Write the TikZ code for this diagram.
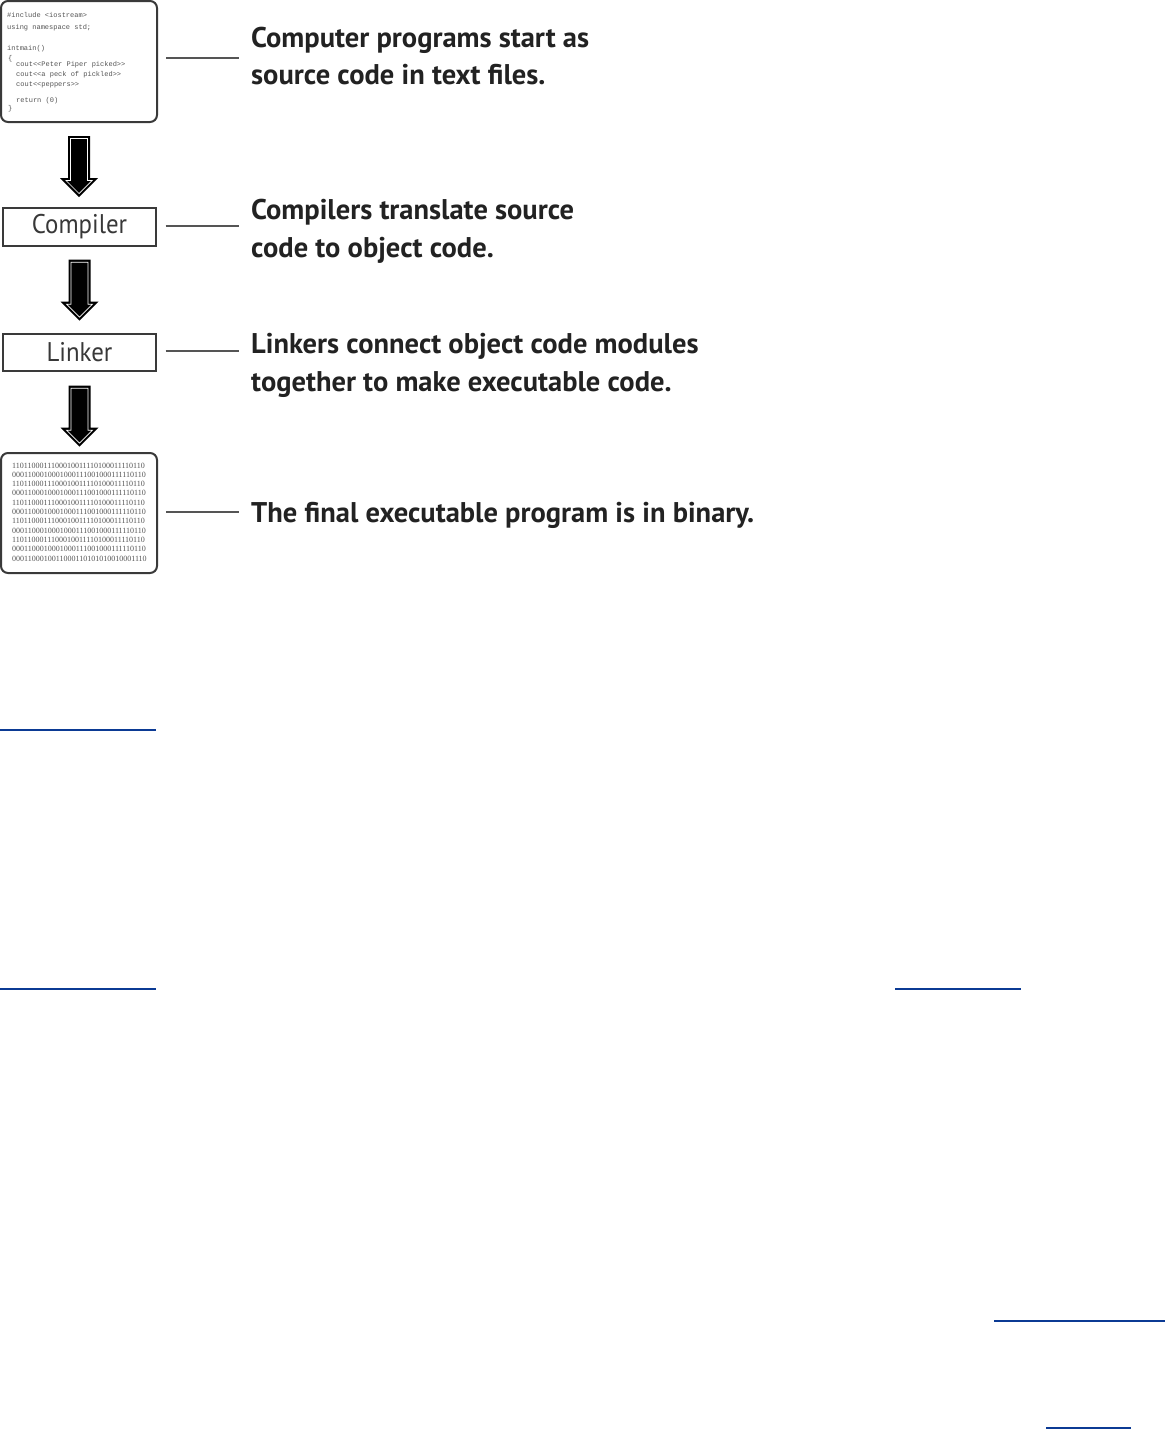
\documentclass[tikz,border=0pt]{standalone}
\usepackage{fontspec}
\setmainfont{Liberation Sans}
\newfontfamily\lblfont{PT Sans}
\newfontfamily\stagefont{PT Sans}[FakeStretch=0.92]
\newfontfamily\codefont{Liberation Mono}
\newfontfamily\binfont{Liberation Serif}
\usetikzlibrary{calc}
\definecolor{labcol}{HTML}{222222}
\definecolor{boxgray}{HTML}{3A3A3A}
\definecolor{leadgray}{HTML}{555555}
\definecolor{codegray}{HTML}{555555}
\definecolor{linkblue}{HTML}{0B3A94}
\begin{document}
\begin{tikzpicture}[x=1pt,y=-1pt,
  bigbox/.style={draw=boxgray, line width=2pt, rounded corners=7pt, inner sep=0pt,
     minimum width=156pt, minimum height=121pt},
  stagebox/.style={draw=boxgray, line width=1.4pt, inner sep=0pt,
     minimum width=153pt, minimum height=38pt, text=labcol!90,
     font=\stagefont\fontsize{27}{30}\selectfont},
  lab/.style={anchor=base west, inner sep=0pt, text=labcol,
     font=\lblfont\bfseries\fontsize{28.5}{30}\selectfont},
  codeline/.style={anchor=base west, inner sep=0pt, text=codegray,
     font=\codefont\fontsize{7}{8}\selectfont},
  binline/.style={anchor=base west, inner sep=0pt, text=codegray,
     font=\binfont\fontsize{8}{9}\selectfont},
  leader/.style={draw=leadgray, line width=1.6pt},
  linkline/.style={draw=linkblue},
  downarr/.pic={
    \fill[black] (-11,0) -- (11,0) -- (11,42) -- (19,42) -- (0,61) -- (-19,42) -- (-11,42) -- cycle;
    \draw[white, line width=0.7pt, line join=miter] (-8.5,2.5) -- (8.5,2.5) -- (8.5,44.5) -- (13,44.5) -- (0,57.5) -- (-13,44.5) -- (-8.5,44.5) -- cycle;
  }]
\useasboundingbox[fill=white] (0,0) rectangle (1166,1430);

% boxes
\node[bigbox] (src) at (79,61.5) {};
\node[stagebox] (cmp) at (79.5,227) {Compiler};
\node[stagebox, minimum height=37pt] (lnk) at (79.5,352.5) {Linker};
\node[bigbox, minimum height=120pt] (bin) at (79,513) {};

% source code text
\node[codeline] (c1) at (7,17.5) {\#include <iostream>};
\node[codeline] (c2) at (7,29.5) {using namespace std;};
\node[codeline] (c3) at (7,50.5) {intmain()};
\node[codeline] (c4) at (8,60.5) {\{};
\node[codeline] (c5) at (16,66.5) {cout<<Peter Piper picked>>};
\node[codeline] (c6) at (16,76.5) {cout<<a peck of pickled>>};
\node[codeline] (c7) at (16,86.5) {cout<<peppers>>};
\node[codeline] (c8) at (16,102.5) {return (0)};
\node[codeline] (c9) at (8,110.5) {\}};

% binary text
\foreach \i/\s in {0/1101100011100010011110100011110110,
                   1/0001100010001000111001000111110110,
                   2/1101100011100010011110100011110110,
                   3/0001100010001000111001000111110110,
                   4/1101100011100010011110100011110110,
                   5/0001100010001000111001000111110110,
                   6/1101100011100010011110100011110110,
                   7/0001100010001000111001000111110110,
                   8/1101100011100010011110100011110110,
                   9/0001100010001000111001000111110110,
                   10/0001100010011000110101010010001110}
  \node[binline] (b\i) at (12,{468+9.3*\i}) {\s};

% arrows between stages
\pic at ($(src.south)+(0,13)$) {downarr};
\pic at ($(cmp.south)+(0,13)$) {downarr};
\pic at ($(lnk.south)+(0,14)$) {downarr};

% labels
\node[lab] (t1a) at (251,47) {Computer programs start as};
\node[lab] (t1b) at (251,84) {source code in text files.};
\node[lab] (t2a) at (251,219) {Compilers translate source};
\node[lab] (t2b) at (251,257) {code to object code.};
\node[lab] (t3a) at (251,353) {Linkers connect object code modules};
\node[lab] (t3b) at (251,391) {together to make executable code.};
\node[lab] (t4a) at (251,522) {The final executable program is in binary.};

% leader lines
\coordinate (k1) at (0,58);
\coordinate (k2) at (0,226);
\coordinate (k3) at (0,351);
\coordinate (k4) at (0,512);
\draw[leader, shorten <=8pt, shorten >=12pt] (src.east |- k1) -- (t1a.west |- k1);
\draw[leader, shorten <=9pt, shorten >=12pt] (cmp.east |- k2) -- (t2a.west |- k2);
\draw[leader, shorten <=9pt, shorten >=12pt] (lnk.east |- k3) -- (t3a.west |- k3);
\draw[leader, shorten <=8pt, shorten >=12pt] (bin.east |- k4) -- (t4a.west |- k4);

% blue underlines
\draw[linkline, line width=2pt] (0,730) -- (156,730);
\draw[linkline, line width=1.3pt] (0,989) -- (156,989);
\draw[linkline, line width=1.3pt] (895,989) -- (1021,989);
\draw[linkline, line width=2pt] (994,1321) -- (1165,1321);
\draw[linkline, line width=2pt] (1046,1428) -- (1131,1428);
\end{tikzpicture}
\end{document}
